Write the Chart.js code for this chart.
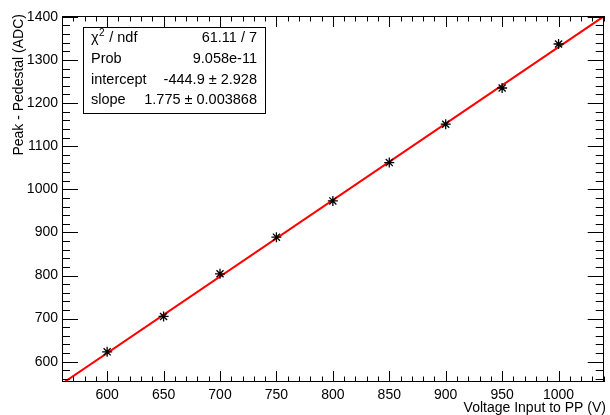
<!DOCTYPE html>
<html>
<head>
<meta charset="utf-8">
<script src="https://cdn.jsdelivr.net/npm/chart.js@4/dist/chart.umd.min.js"></script>
<style>
  html, body { margin: 0; padding: 0; background: #fff; }
  #wrap { width: 610px; height: 415px; }
</style>
</head>
<body>
<div id="wrap"><canvas id="c" width="610" height="415"></canvas></div>
<script>
// Measured pulse height versus applied voltage
const voltages = [600, 650, 700, 750, 800, 850, 900, 950, 1000];
const peakMinusPedestal = [623, 705, 804, 889, 973, 1062, 1151, 1235, 1337];

// Axis ranges and labelled ticks
const xRange = [560, 1040];
const yRange = [553, 1402];
const xTicks = [600, 650, 700, 750, 800, 850, 900, 950, 1000];
const yTicks = [600, 700, 800, 900, 1000, 1100, 1200, 1300, 1400];
const xMinorStep = 10;
const yMinorStep = 20;

// Linear fit results (pol1)
const chi2 = '61.11';
const ndf = '7';
const fitProb = '9.058e-11';
const fitIntercept = -444.9;
const fitInterceptErr = '2.928';
const fitSlope = 1.775;
const fitSlopeErr = '0.003868';

const FONT = '"Liberation Sans", Arial, Helvetica, sans-serif';

const fitLine = xRange.map(x => ({ x: x, y: fitIntercept + fitSlope * x }));
const points = voltages.map((v, i) => ({ x: v, y: peakMinusPedestal[i] }));

// Frame, inward tick marks, axis titles and the fit statistics box
const frameAndStats = {
  id: 'frameAndStats',
  afterDraw(chart) {
    const ctx = chart.ctx;
    const a = chart.chartArea;
    const xs = chart.scales.x, ys = chart.scales.y;
    ctx.save();
    ctx.strokeStyle = '#000';
    ctx.lineWidth = 1;
    ctx.beginPath();
    // x ticks (bottom and top)
    for (let v = Math.ceil(xRange[0] / xMinorStep) * xMinorStep; v <= xRange[1]; v += xMinorStep) {
      const px = Math.round(xs.getPixelForValue(v)) + 0.5;
      const major = v % 50 === 0;
      const len = major ? 11 : 5.5;
      ctx.moveTo(px, a.bottom); ctx.lineTo(px, a.bottom - len);
      ctx.moveTo(px, a.top); ctx.lineTo(px, a.top + len);
    }
    // y ticks (left and right)
    for (let v = Math.ceil(yRange[0] / yMinorStep) * yMinorStep; v <= yRange[1]; v += yMinorStep) {
      const py = Math.round(ys.getPixelForValue(v)) + 0.5;
      const major = v % 100 === 0;
      const len = major ? 16 : 8;
      ctx.moveTo(a.left, py); ctx.lineTo(a.left + len, py);
      ctx.moveTo(a.right, py); ctx.lineTo(a.right - len, py);
    }
    ctx.stroke();
    ctx.strokeRect(Math.round(a.left) + 0.5, Math.round(a.top) + 0.5,
                   Math.round(a.right - a.left) - 1, Math.round(a.bottom - a.top) - 1);

    // axis titles
    ctx.fillStyle = '#000';
    ctx.font = '14px ' + FONT;
    ctx.textAlign = 'right';
    ctx.textBaseline = 'alphabetic';
    ctx.fillText('Voltage Input to PP (V)', 606, 412);
    ctx.save();
    ctx.translate(23, 14);
    ctx.rotate(-Math.PI / 2);
    ctx.textAlign = 'right';
    ctx.fillText('Peak - Pedestal (ADC)', 0, 0);
    ctx.restore();

    // statistics box
    const bx = 83, by = 27, bw = 182, bh = 86;
    ctx.fillStyle = '#fff';
    ctx.fillRect(bx, by, bw, bh);
    ctx.strokeRect(bx + 0.5, by + 0.5, bw, bh);
    ctx.fillStyle = '#000';
    ctx.font = '14.5px ' + FONT;
    ctx.textBaseline = 'middle';
    const lx = 91, rx = 257;
    const rows = [38, 58.5, 79.5, 100];
    // chi-square label with superscript
    ctx.textAlign = 'left';
    ctx.fillText('\u03C7', lx, rows[0]);
    let w = ctx.measureText('\u03C7').width;
    ctx.font = '10px ' + FONT;
    ctx.fillText('2', lx + w + 0.5, rows[0] - 5);
    const w2 = ctx.measureText('2').width;
    ctx.font = '14.5px ' + FONT;
    ctx.fillText(' / ndf', lx + w + w2 + 1, rows[0]);
    ctx.fillText('Prob', lx, rows[1]);
    ctx.fillText('intercept', lx, rows[2]);
    ctx.fillText('slope', lx, rows[3]);
    ctx.textAlign = 'right';
    ctx.fillText(chi2 + ' / ' + ndf, rx, rows[0]);
    ctx.fillText(fitProb, rx, rows[1]);
    ctx.fillText(fitIntercept.toFixed(1) + ' \u00B1 ' + fitInterceptErr, rx, rows[2]);
    ctx.fillText(fitSlope.toFixed(3) + ' \u00B1 ' + fitSlopeErr, rx, rows[3]);
    ctx.restore();
  }
};

new Chart(document.getElementById('c'), {
  data: {
    datasets: [
      {
        type: 'scatter',
        data: points,
        pointStyle: 'star',
        pointRadius: 5,
        borderColor: '#000',
        backgroundColor: '#000',
        pointBorderWidth: 1.3,
        order: 0
      },
      {
        type: 'line',
        data: fitLine,
        borderColor: '#ff0000',
        borderWidth: 2,
        pointRadius: 0,
        fill: false,
        clip: 0,
        order: 1
      }
    ]
  },
  plugins: [frameAndStats],
  options: {
    responsive: false,
    animation: false,
    devicePixelRatio: 1,
    layout: { padding: { left: 0, right: 5, top: 16, bottom: 0 } },
    plugins: { legend: { display: false }, tooltip: { enabled: false } },
    scales: {
      x: {
        type: 'linear',
        min: xRange[0],
        max: xRange[1],
        afterBuildTicks: s => { s.ticks = xTicks.map(v => ({ value: v })); },
        afterFit: s => { s.height = 33; },
        grid: { display: false, drawTicks: false },
        border: { display: false },
        ticks: {
          autoSkip: false, maxRotation: 0, padding: 5,
          callback: v => String(v),
          color: '#000', font: { family: FONT, size: 14 }
        }
      },
      y: {
        type: 'linear',
        min: yRange[0],
        max: yRange[1],
        afterBuildTicks: s => { s.ticks = yTicks.map(v => ({ value: v })); },
        afterFit: s => { s.width = 62; },
        grid: { display: false, drawTicks: false },
        border: { display: false },
        ticks: {
          autoSkip: false, padding: 4,
          callback: v => String(v),
          color: '#000', font: { family: FONT, size: 14 }
        }
      }
    }
  }
});
</script>
</body>
</html>
